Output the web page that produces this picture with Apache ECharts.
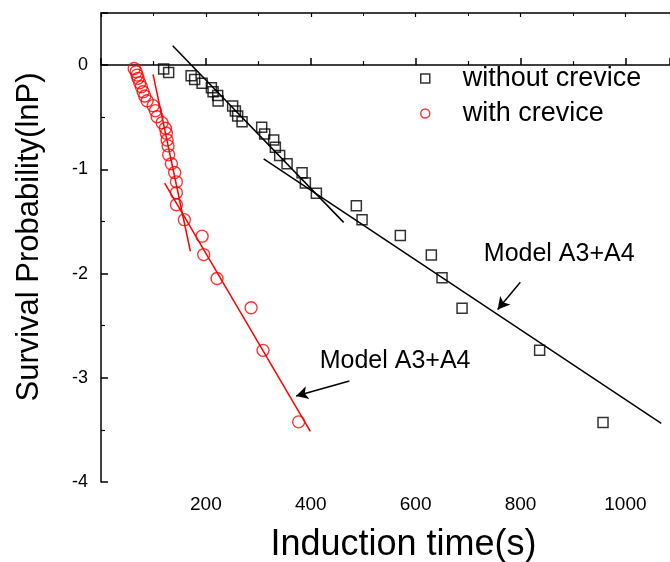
<!DOCTYPE html>
<html><head><meta charset="utf-8">
<script src="https://cdn.jsdelivr.net/npm/echarts@6/dist/echarts.min.js"></script>
<style>html,body{margin:0;padding:0;background:#fff}#c{width:670px;height:562px}</style>
</head><body><div id="c"></div>
<script>
// ---- data ----
const blackX = [119.5,129,171.8,178.6,192.8,210.5,213.7,222.5,223.3,251,256.2,260.6,269,306.4,312.1,329.3,332.5,340.7,354.8,383.4,389.7,410.7,486.9,497.8,570.8,629.9,650.3,688.5,836.4,957.3];
const blackY = [-0.038,-0.070,-0.102,-0.137,-0.175,-0.217,-0.255,-0.292,-0.344,-0.392,-0.440,-0.488,-0.543,-0.596,-0.660,-0.718,-0.788,-0.868,-0.947,-1.033,-1.130,-1.230,-1.349,-1.483,-1.636,-1.821,-2.041,-2.332,-2.737,-3.429];
const redX = [63.3,66.9,68.8,70.7,73.8,77.0,80.3,83.4,87.9,99.3,103.7,107.0,116.5,122.8,124.7,126.0,127.9,129.0,134.2,140.5,143.8,143.8,143.8,159.0,192.8,195.8,221.3,286.2,309.0,376.9];
const redY = [-0.032,-0.064,-0.096,-0.127,-0.169,-0.208,-0.255,-0.297,-0.342,-0.389,-0.437,-0.495,-0.552,-0.606,-0.654,-0.718,-0.775,-0.861,-0.947,-1.031,-1.120,-1.225,-1.340,-1.483,-1.641,-1.818,-2.048,-2.328,-2.737,-3.423];
// fitted model line end points [x, y]
const blackFitSteep = [[136.7, 0.185],[462.7,-1.509]];
const blackFitShallow = [[310.2,-0.900],[1068.4,-3.438]];
const redFitSteep = [[99.3,-0.089],[170.4,-1.786]];
const redFitLong = [[121.4,-1.132],[399.2,-3.515]];
// annotation arrows [from, to]
const arrowBlack = [[799.6,-2.083],[756.3,-2.344]];
const arrowRed = [[473.6,-3.031],[372.0,-3.174]];
const annoText = 'Model A3+A4';
const annoBlackPos = [730,-1.809];
const annoRedPos = [417,-2.842];
const seriesNames = ['without crevice','with crevice'];
const xTitle = 'Induction time(s)';
const yTitle = 'Survival Probability(lnP)';
const xRange = [0,1085], yRange = [-4,0.5];

const FONT = '"Liberation Sans", Arial, sans-serif';
const zip = (a,b)=>a.map((v,i)=>[v,b[i]]);
const chart = echarts.init(document.getElementById('c'));

const fitLine = (data,color)=>({type:'line',data,symbol:'none',silent:true,
  lineStyle:{color,width:1.5},z:3,animation:false});

chart.setOption({
  animation:false,
  grid:{left:101,top:13,right:0,bottom:80,containLabel:false},
  xAxis:[{type:'value',min:xRange[0],max:xRange[1],interval:200,position:'bottom',
    axisLine:{lineStyle:{color:'#000',width:1.5}},
    axisTick:{inside:true,length:7,lineStyle:{color:'#000',width:1.5}},
    minorTick:{show:true,splitNumber:2,length:4,lineStyle:{color:'#000',width:1.2}},
    axisLabel:{showMinLabel:false,showMaxLabel:false,fontFamily:FONT,fontSize:19,color:'#000',margin:13,
      formatter:v=>String(v)},
    splitLine:{show:false}},
   {type:'value',min:xRange[0],max:xRange[1],interval:200,position:'top',
    axisLine:{lineStyle:{color:'#000',width:1.5}},
    axisTick:{inside:true,length:4,lineStyle:{color:'#000',width:1.2}},
    minorTick:{show:true,splitNumber:2,length:3,lineStyle:{color:'#000',width:1}},
    axisLabel:{show:false},splitLine:{show:false}}],
  yAxis:[{type:'value',min:yRange[0],max:yRange[1],interval:1,
    axisLine:{lineStyle:{color:'#000',width:1.5}},
    axisTick:{inside:true,length:7,lineStyle:{color:'#000',width:1.5}},
    minorTick:{show:true,splitNumber:2,length:4,lineStyle:{color:'#000',width:1.2}},
    axisLabel:{showMaxLabel:false,fontFamily:FONT,fontSize:18,color:'#000',margin:13},
    splitLine:{show:false}}],
  legend:{orient:'vertical',left:415,top:60,itemWidth:9,itemHeight:9,itemGap:8,
    textStyle:{fontFamily:FONT,fontSize:27,color:'#000',padding:[0,0,0,28]},
    data:[{name:seriesNames[0],icon:'rect',itemStyle:{color:'rgba(0,0,0,0)',borderColor:'#000',borderWidth:1.5}},
          {name:seriesNames[1],icon:'circle',itemStyle:{color:'rgba(0,0,0,0)',borderColor:'#f00',borderWidth:1.5}}]},
  series:[
    {name:seriesNames[0],type:'scatter',data:zip(blackX,blackY),symbol:'rect',symbolSize:10,
      itemStyle:{color:'rgba(0,0,0,0)',borderColor:'#000',borderWidth:1.5},z:4},
    {name:seriesNames[1],type:'scatter',data:zip(redX,redY),symbol:'circle',symbolSize:12,
      itemStyle:{color:'rgba(0,0,0,0)',borderColor:'#f00',borderWidth:1.4},z:4},
    fitLine(blackFitSteep,'#000'),
    fitLine(blackFitShallow,'#000'),
    fitLine(redFitSteep,'#f00'),
    Object.assign(fitLine(redFitLong,'#f00'),{
      markLine:{silent:true,animation:false,symbol:['none','arrow'],symbolSize:[10,12],
        label:{show:false},lineStyle:{color:'#000',width:1.5,type:'solid'},
        data:[[{coord:arrowBlack[0]},{coord:arrowBlack[1]}],[{coord:arrowRed[0]},{coord:arrowRed[1]}]]}})
  ]
});

const pB = chart.convertToPixel({gridIndex:0}, annoBlackPos);
const pR = chart.convertToPixel({gridIndex:0}, annoRedPos);
chart.setOption({graphic:[
  {type:'text',x:pB[0],y:pB[1],style:{text:annoText,font:'25px '+FONT,fill:'#000',verticalAlign:'middle',align:'left'}},
  {type:'text',x:pR[0],y:pR[1],style:{text:annoText,font:'25px '+FONT,fill:'#000',verticalAlign:'middle',align:'left'}},
  {type:'text',x:403.5,y:545,style:{text:xTitle,font:'36px '+FONT,fill:'#000',verticalAlign:'middle',align:'center'}},
  {type:'text',x:29,y:237,rotation:Math.PI/2,style:{text:yTitle,font:'31px '+FONT,fill:'#000',verticalAlign:'middle',align:'center'}}
]});
</script></body></html>
